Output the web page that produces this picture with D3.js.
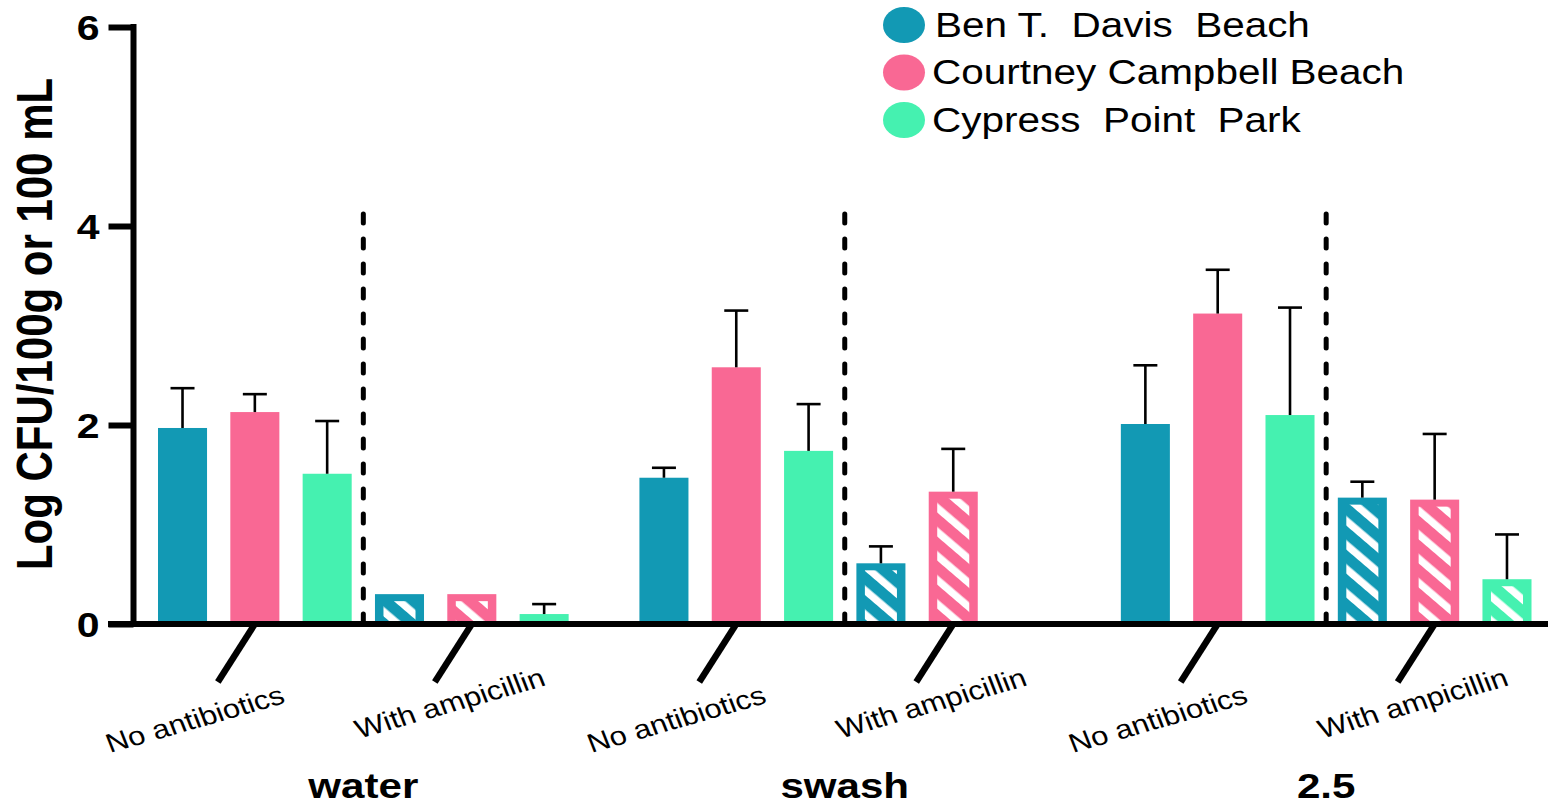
<!DOCTYPE html>
<html>
<head>
<meta charset="utf-8">
<script src="https://cdn.jsdelivr.net/npm/d3@7"></script>
<style>
  html, body { margin: 0; padding: 0; background: #fff; }
  svg { display: block; font-family: "Liberation Sans", Arial, Helvetica, sans-serif; }
</style>
</head>
<body>
<svg id="chart" width="1548" height="806"></svg>
<script>
// ---- data ----
const sites = ["Ben T.  Davis  Beach", "Courtney Campbell Beach", "Cypress  Point  Park"];
const siteColors = ["#1299b4", "#f96894", "#45f1b0"];
const groups = ["water", "swash", "2.5"];
const treatments = ["No antibiotics", "With ampicillin"];
// Values ordered: water/none, water/amp, swash/none, swash/amp, 2.5/none, 2.5/amp
const benMeans      = [1.97, 0.30, 1.47, 0.61, 2.01, 1.27];
const benErr        = [0.40, 0.00, 0.10, 0.17, 0.59, 0.16];
const courtneyMeans = [2.13, 0.30, 2.58, 1.33, 3.12, 1.25];
const courtneyErr   = [0.18, 0.00, 0.57, 0.43, 0.44, 0.66];
const cypressMeans  = [1.51, 0.10, 1.74, null, 2.10, 0.45];
const cypressErr    = [0.53, 0.10, 0.47, null, 1.08, 0.45];
const yTicks = [0, 2, 4, 6];
const yTitle = "Log CFU/100g or 100 mL";

const means = [benMeans, courtneyMeans, cypressMeans];
const errs = [benErr, courtneyErr, cypressErr];

// ---- layout ----
const SX = 1.17;            // horizontal text stretch
const AXIS_X = 133.5;
const svg = d3.select("#chart");
const y = d3.scaleLinear().domain([0, 6]).range([624, 27]);
const x0 = d3.scaleBand().domain(groups).range([158, 1531.5]).paddingInner(0.147);
const slots = d3.range(6);
const x1 = d3.scaleBand().domain(slots).range([0, x0.bandwidth()]).paddingInner(0.322).paddingOuter(0);
const bw = x1.bandwidth();

const rows = [];
groups.forEach((g, gi) => {
  treatments.forEach((t, ti) => {
    sites.forEach((s, si) => {
      const v = means[si][gi * 2 + ti];
      if (v == null) return;
      rows.push({ g, t, ti, si, v, e: errs[si][gi * 2 + ti], slot: ti * 3 + si });
    });
  });
});

// hatch: white diagonal stripes
const defs = svg.append("defs");
defs.append("pattern")
  .attr("id", "hatch")
  .attr("patternUnits", "userSpaceOnUse")
  .attr("width", 17).attr("height", 40)
  .attr("patternTransform", `scale(${SX},1) rotate(-45)`)
  .append("rect").attr("width", 6.8).attr("height", 40).attr("fill", "#fff");

// ---- bars ----
const barG = svg.append("g");
const bar = barG.selectAll("g.bar").data(rows).join("g").attr("class", "bar");
bar.append("rect")
  .attr("x", d => x0(d.g) + x1(d.slot))
  .attr("y", d => y(d.v))
  .attr("width", bw)
  .attr("height", d => y(0) - y(d.v))
  .attr("fill", d => siteColors[d.si]);
bar.filter(d => d.ti === 1)
  .append("rect")
  .attr("x", d => x0(d.g) + x1(d.slot) + 8.5)
  .attr("y", d => y(d.v) + 7)
  .attr("width", bw - 17)
  .attr("height", d => Math.max(0, y(0) - y(d.v) - 7))
  .attr("fill", "url(#hatch)");

// error bars (upper only)
const eb = barG.selectAll("g.err").data(rows.filter(d => d.e > 0)).join("g").attr("class", "err")
  .attr("stroke", "#000").attr("stroke-width", 2.6);
eb.append("line")
  .attr("x1", d => x0(d.g) + x1(d.slot) + bw / 2)
  .attr("x2", d => x0(d.g) + x1(d.slot) + bw / 2)
  .attr("y1", d => y(d.v))
  .attr("y2", d => y(d.v + d.e));
eb.append("line")
  .attr("x1", d => x0(d.g) + x1(d.slot) + bw / 2 - 12)
  .attr("x2", d => x0(d.g) + x1(d.slot) + bw / 2 + 12)
  .attr("y1", d => y(d.v + d.e))
  .attr("y2", d => y(d.v + d.e));

// dashed separators between treatments
svg.append("g").selectAll("line").data(groups).join("line")
  .attr("x1", g => x0(g) + (x1(2) + bw + x1(3)) / 2)
  .attr("x2", g => x0(g) + (x1(2) + bw + x1(3)) / 2)
  .attr("y1", y(4.12))
  .attr("y2", y(0))
  .attr("stroke", "#000").attr("stroke-width", 5)
  .attr("stroke-dasharray", "9,16").attr("stroke-linecap", "round");

// ---- axes ----
const yAxis = svg.append("g").attr("transform", `translate(${AXIS_X},0)`)
  .call(d3.axisLeft(y).tickValues(yTicks).tickSize(25).tickSizeOuter(0).tickFormat(d3.format("d")));
yAxis.attr("font-size", null).attr("font-family", null);
yAxis.select(".domain").remove();
yAxis.selectAll(".tick line").attr("stroke", "#000").attr("stroke-width", 6);
yAxis.selectAll(".tick text")
  .attr("x", null).attr("dy", "0.36em")
  .attr("transform", `translate(-34,0) scale(${SX},1)`)
  .attr("text-anchor", "end")
  .attr("font-size", 35).attr("font-weight", "bold").attr("fill", "#000");

svg.append("line")
  .attr("x1", AXIS_X).attr("x2", AXIS_X)
  .attr("y1", y(6) - 3).attr("y2", y(0) + 3)
  .attr("stroke", "#000").attr("stroke-width", 6);
svg.append("line")
  .attr("x1", 108).attr("x2", 1548)
  .attr("y1", y(0)).attr("y2", y(0))
  .attr("stroke", "#000").attr("stroke-width", 6);

// category ticks and labels
const cats = [];
groups.forEach(g => treatments.forEach((t, ti) => {
  cats.push({ g, t, ti, cx: x0(g) + (x1(ti * 3) + x1(ti * 3 + 2) + bw) / 2 });
}));
svg.append("g").selectAll("line").data(cats).join("line")
  .attr("x1", d => d.cx).attr("y1", y(0))
  .attr("x2", d => d.cx - 37).attr("y2", y(0) + 58)
  .attr("stroke", "#000").attr("stroke-width", 6.5);

const labelOffset = [{ dx: -60, y: 719 }, { dx: -22, y: 703 }];
svg.append("g").selectAll("text").data(cats).join("text")
  .attr("transform", d => `translate(${d.cx + labelOffset[d.ti].dx},${labelOffset[d.ti].y}) scale(${SX},1) rotate(-18.5)`)
  .attr("text-anchor", "middle").attr("dy", "0.35em")
  .attr("font-size", 26.5).attr("fill", "#000")
  .text(d => d.t);

// group labels
svg.append("g").selectAll("text").data(groups).join("text")
  .attr("transform", g => `translate(${x0(g) + x0.bandwidth() / 2},798) scale(${SX},1)`)
  .attr("text-anchor", "middle")
  .attr("font-size", 36).attr("font-weight", "bold").attr("fill", "#000")
  .text(g => g);

// y-axis title
svg.append("text")
  .attr("transform", `translate(52,324) scale(${SX},1) rotate(-90)`)
  .attr("text-anchor", "middle")
  .attr("font-size", 42).attr("font-weight", "bold").attr("fill", "#000")
  .text(yTitle);

// ---- legend ----
const legend = svg.append("g").selectAll("g").data(sites).join("g")
  .attr("transform", (s, i) => `translate(0,${25 + i * 47.5})`);
legend.append("ellipse")
  .attr("cx", 904).attr("cy", 0).attr("rx", 21).attr("ry", 18)
  .attr("fill", (s, i) => siteColors[i]);
legend.append("text")
  .attr("transform", (s, i) => `translate(${i === 0 ? 935 : 932},11.5) scale(${SX},1)`)
  .attr("font-size", 34.6).attr("fill", "#000")
  .style("white-space", "pre")
  .text(s => s);
</script>
</body>
</html>
